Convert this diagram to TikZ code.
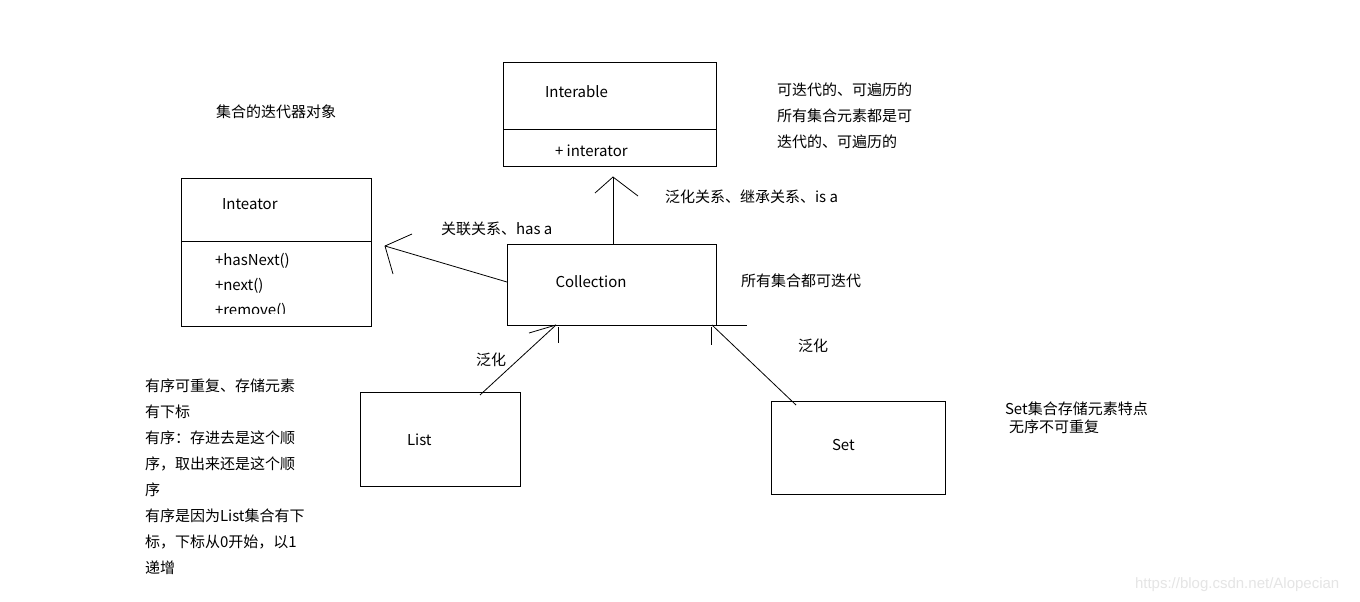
\documentclass[tikz,border=0pt]{standalone}
\usepackage{fontspec}
\setmainfont{Noto Sans CJK SC}
\newfontfamily\wmfont{Liberation Sans}
\begin{document}
\begin{tikzpicture}[x=1pt,y=-1pt,
  every node/.style={inner sep=0pt, outer sep=0pt, font=\fontsize{15}{18}\selectfont},
  box/.style={draw, line width=1pt, rectangle},
  txt/.style={anchor=west, yshift=-1.5pt},
  ln/.style={line width=1pt},
  thin/.style={line width=0.8pt}]
\useasboundingbox[fill=white] (0,0) rectangle (1360,602);

% Interable
\node[box, minimum width=213pt, minimum height=103pt] (iable) at (609.5,114.5) {};
\draw[ln] (503,129) -- (716,129);
\node[txt] (iablet) at (545,90) {Interable};
\node[txt] (iablem) at (555,149) {+ interator};

% Inteator
\node[box, minimum width=190pt, minimum height=148pt] (itor) at (276,252) {};
\draw[ln] (181,241) -- (371,241);
\node[txt] (itort) at (222,203) {Inteator};
\node[txt] (itorm1) at (215,259) {+hasNext()};
\node[txt] (itorm2) at (215,284) {+next()};
\begin{scope}
\clip (182,296) rectangle (370,313);
\node[txt] (itorm3) at (215,309) {+remove()};
\end{scope}

% Collection
\node[box, minimum width=209pt, minimum height=81pt] (coll) at (611.5,284.5) {};
\node[yshift=-1.5pt] (collt) at (591,280) {Collection};

% List
\node[box, minimum width=160pt, minimum height=94pt] (list) at (440,439) {};
\node[txt] (listt) at (407,438) {List};

% Set
\node[box, minimum width=174pt, minimum height=93pt] (set) at (858,447.5) {};
\node[txt] (sett) at (832,443) {Set};

% arrow apexes
\coordinate (apexI) at (613,177);
\coordinate (apexA) at (385,246);
\coordinate (apexL) at (556,325);
\coordinate (apexS) at (712,325);

% generalization Collection -> Interable
\draw[ln] (coll.north -| apexI) -- (apexI);
\draw[thin] (apexI) ++(-18,16) -- (apexI) -- ++(25,19);

% association Collection -> Inteator
\draw[thin] ([yshift=2.5pt]coll.west) -- (apexA);
\draw[thin] (apexA) ++(27,-12) -- (apexA) -- ++(8,28);

% List -> Collection
\draw[thin] ([xshift=40pt,yshift=-3pt]list.north) -- (apexL);
\draw[thin] (apexL) ++(-27,8) -- (apexL);
\draw[ln] (558,327) -- (558,343);

% Set -> Collection
\draw[thin] ([xshift=-62pt,yshift=-4pt]set.north) -- (apexS);
\draw[ln] (coll.south east) -- (747,325);
\draw[ln] (711,327) -- (711,345);

% labels
\node[txt] (lab1) at (216,110) {集合的迭代器对象};
\node[txt] (lab2) at (441,227) {关联关系、has a};
\node[txt] (lab3) at (665,195) {泛化关系、继承关系、is a};
\node[txt] (lab4) at (741,279) {所有集合都可迭代};
\node[txt] (lab5) at (476,358) {泛化};
\node[txt] (lab6) at (798,344) {泛化};
\node[txt] (lab7) at (777,88) {可迭代的、可遍历的};
\node[txt] (lab8) at (777,114) {所有集合元素都是可};
\node[txt] (lab9) at (777,140) {迭代的、可遍历的};
\node[txt] (lab10) at (1005,407) {Set集合存储元素特点};
\node[txt] (lab11) at (1009,425) {无序不可重复};

\node[txt] (ll1) at (145,384) {有序可重复、存储元素};
\node[txt] (ll2) at (145,410) {有下标};
\node[txt] (ll3) at (145,436) {有序：存进去是这个顺};
\node[txt] (ll4) at (145,462) {序，取出来还是这个顺};
\node[txt] (ll5) at (145,488) {序};
\node[txt] (ll6) at (145,514) {有序是因为List集合有下};
\node[txt] (ll7) at (145,540) {标，下标从0开始，以1};
\node[txt] (ll8) at (145,566) {递增};

\node[txt, text=black!10, font=\wmfont\fontsize{15}{18}\selectfont] (wm) at (1135,583) {https://blog.csdn.net/Alopecian};
\end{tikzpicture}
\end{document}
